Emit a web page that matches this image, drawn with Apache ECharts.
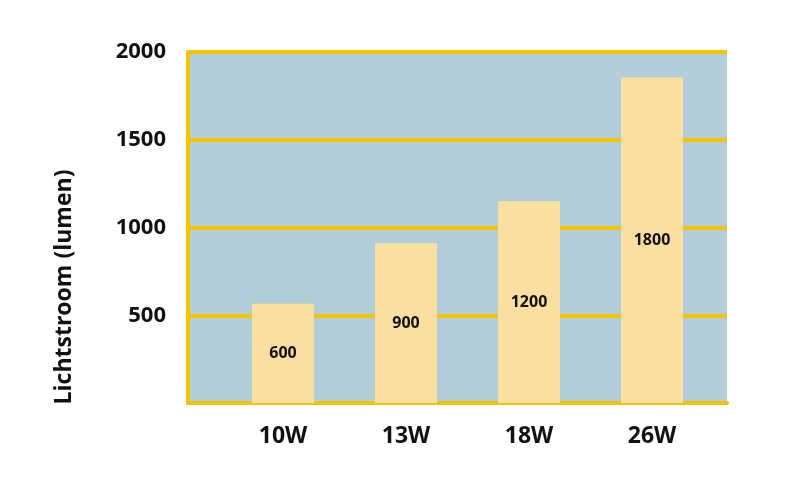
<!DOCTYPE html>
<html><head><meta charset="utf-8">
<script src="https://cdn.jsdelivr.net/npm/echarts@6/dist/echarts.min.js"></script>
<style>html,body{margin:0;padding:0;background:#fff}#c{width:800px;height:500px}</style>
</head><body><div id="c"></div>
<script>
const categories = ['10W', '13W', '18W', '26W'];
const barValues = [565, 910, 1150, 1855];
const barLabels = ['600', '900', '1200', '1800'];
const yTicks = [0, 500, 1000, 1500, 2000];
const yName = 'Lichtstroom (lumen)';

const FONT = '"Open Sans"';
const YELLOW = '#f5c400';
const chart = echarts.init(document.getElementById('c'), null, {renderer: 'canvas'});
chart.setOption({
  animation: false,
  grid: [
    {left: 188, right: 73, top: 52, bottom: 97, show: true, backgroundColor: '#b0cdd8', borderWidth: 0},
    {left: 221.5, right: 86.5, top: 52, bottom: 97}
  ],
  xAxis: [
    {gridIndex: 0, type: 'value', min: 0, max: 1, show: true,
     axisLine: {show: true, onZero: false, lineStyle: {color: YELLOW, width: 4}},
     axisTick: {show: false}, axisLabel: {show: false}, splitLine: {show: false}},
    {gridIndex: 1, type: 'category', data: categories,
     axisLine: {show: false}, axisTick: {show: false}, splitLine: {show: false},
     axisLabel: {margin: 22, color: '#111', fontFamily: FONT, fontWeight: 'bold', fontSize: 23}}
  ],
  yAxis: [
    {gridIndex: 0, type: 'value', min: yTicks[0], max: yTicks[yTicks.length - 1], interval: 500,
     axisLine: {show: true, lineStyle: {color: YELLOW, width: 4}},
     axisTick: {show: false},
     splitLine: {show: true, lineStyle: {color: YELLOW, width: 4}},
     axisLabel: {margin: 22, color: '#111', fontFamily: FONT, fontWeight: 'bold', fontSize: 22,
       formatter: v => (v === 0 ? '' : String(v))}},
    {gridIndex: 1, type: 'value', min: yTicks[0], max: yTicks[yTicks.length - 1], show: false}
  ],
  graphic: [{
    type: 'text', x: 64, y: 287, rotation: Math.PI / 2,
    style: {text: yName, fill: '#111', align: 'center', verticalAlign: 'middle',
      font: 'bold 23px ' + FONT}
  }],
  series: [{
    type: 'bar', xAxisIndex: 1, yAxisIndex: 1,
    data: barValues, barWidth: 62,
    itemStyle: {color: '#fbdfa0'},
    label: {show: true, position: 'inside', color: '#111', fontFamily: FONT, fontWeight: 'bold', fontSize: 16,
      formatter: p => barLabels[p.dataIndex]},
    z: 3
  }]
});
</script></body></html>
